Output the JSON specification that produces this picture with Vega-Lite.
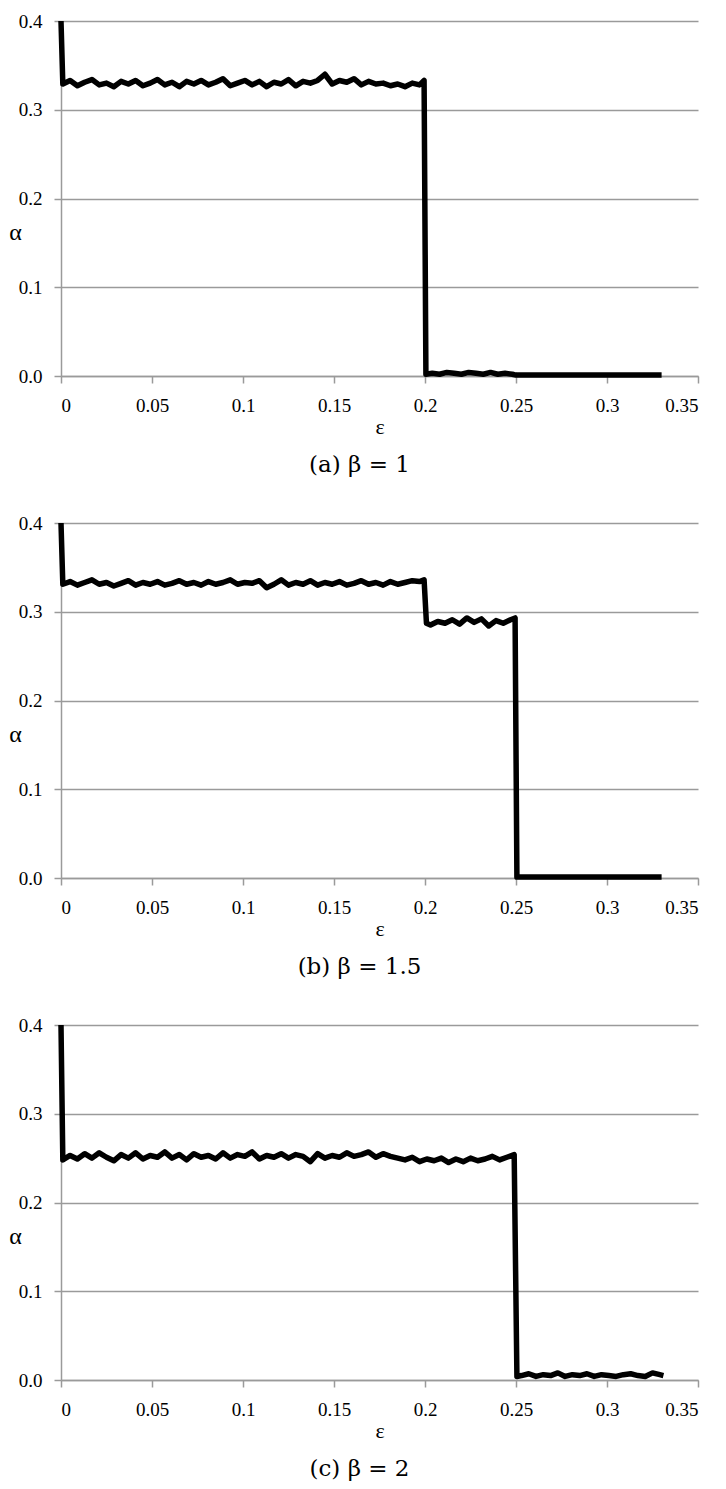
{
  "$schema": "https://vega.github.io/schema/vega-lite/v6.json",
  "background": "white",
  "padding": {"top": 12, "left": 8, "right": 5, "bottom": 5},
  "spacing": 147,
  "bounds": "flush",
  "config": {
    "view": {"stroke": null},
    "font": "Liberation Serif",
    "axis": {
      "labelFont": "Liberation Serif", "labelFontSize": 19, "labelColor": "#000",
      "titleFont": "Liberation Serif", "titleColor": "#000", "titleFontWeight": "normal",
      "domainColor": "#9a9a9a", "domainWidth": 1.5, "tickColor": "#9a9a9a", "tickWidth": 1.5, "tickSize": 7,
      "gridColor": "#9a9a9a", "gridWidth": 1.5
    },
    "title": {"font": "DejaVu Serif", "fontSize": 23, "fontWeight": "normal", "color": "#000", "orient": "bottom", "anchor": "middle", "dx": -20, "offset": 17}
  },
  "datasets": {
    "a": [
      {"x":0,"y":0.4},{"x":0.001,"y":0.329},{"x":0.005,"y":0.333},{"x":0.009,"y":0.327},{"x":0.013,"y":0.331},{"x":0.017,"y":0.334},{"x":0.021,"y":0.328},{"x":0.025,"y":0.330},{"x":0.029,"y":0.326},{"x":0.033,"y":0.332},{"x":0.037,"y":0.329},
      {"x":0.041,"y":0.333},{"x":0.045,"y":0.327},{"x":0.049,"y":0.330},{"x":0.053,"y":0.334},{"x":0.057,"y":0.328},{"x":0.061,"y":0.331},{"x":0.065,"y":0.326},{"x":0.069,"y":0.332},{"x":0.073,"y":0.329},{"x":0.077,"y":0.333},
      {"x":0.081,"y":0.328},{"x":0.085,"y":0.331},{"x":0.089,"y":0.335},{"x":0.093,"y":0.327},{"x":0.097,"y":0.330},{"x":0.101,"y":0.333},{"x":0.105,"y":0.328},{"x":0.109,"y":0.332},{"x":0.113,"y":0.326},{"x":0.117,"y":0.331},
      {"x":0.121,"y":0.329},{"x":0.125,"y":0.334},{"x":0.129,"y":0.327},{"x":0.133,"y":0.332},{"x":0.137,"y":0.330},{"x":0.141,"y":0.333},{"x":0.145,"y":0.340},{"x":0.149,"y":0.329},{"x":0.153,"y":0.333},{"x":0.157,"y":0.331},
      {"x":0.161,"y":0.335},{"x":0.165,"y":0.328},{"x":0.169,"y":0.332},{"x":0.173,"y":0.329},{"x":0.177,"y":0.330},{"x":0.181,"y":0.327},{"x":0.185,"y":0.329},{"x":0.189,"y":0.326},{"x":0.193,"y":0.330},{"x":0.197,"y":0.328},
      {"x":0.1995,"y":0.333},{"x":0.2005,"y":0.002},{"x":0.204,"y":0.003},{"x":0.208,"y":0.002},{"x":0.212,"y":0.004},{"x":0.216,"y":0.003},{"x":0.22,"y":0.002},{"x":0.224,"y":0.004},{"x":0.228,"y":0.003},{"x":0.232,"y":0.002},{"x":0.236,"y":0.004},{"x":0.24,"y":0.002},{"x":0.244,"y":0.003},{"x":0.248,"y":0.002},{"x":0.25,"y":0.001},{"x":0.27,"y":0.001},{"x":0.29,"y":0.001},{"x":0.31,"y":0.001},{"x":0.33,"y":0.001}
    ],
    "b": [
      {"x":0,"y":0.4},{"x":0.001,"y":0.331},{"x":0.005,"y":0.334},{"x":0.009,"y":0.330},{"x":0.013,"y":0.333},{"x":0.017,"y":0.336},{"x":0.021,"y":0.331},{"x":0.025,"y":0.333},{"x":0.029,"y":0.329},{"x":0.033,"y":0.332},{"x":0.037,"y":0.335},
      {"x":0.041,"y":0.330},{"x":0.045,"y":0.333},{"x":0.049,"y":0.331},{"x":0.053,"y":0.334},{"x":0.057,"y":0.330},{"x":0.061,"y":0.332},{"x":0.065,"y":0.335},{"x":0.069,"y":0.331},{"x":0.073,"y":0.333},{"x":0.077,"y":0.330},
      {"x":0.081,"y":0.334},{"x":0.085,"y":0.331},{"x":0.089,"y":0.333},{"x":0.093,"y":0.336},{"x":0.097,"y":0.331},{"x":0.101,"y":0.333},{"x":0.105,"y":0.332},{"x":0.109,"y":0.335},{"x":0.113,"y":0.327},{"x":0.117,"y":0.331},
      {"x":0.121,"y":0.336},{"x":0.125,"y":0.330},{"x":0.129,"y":0.333},{"x":0.133,"y":0.331},{"x":0.137,"y":0.335},{"x":0.141,"y":0.330},{"x":0.145,"y":0.333},{"x":0.149,"y":0.331},{"x":0.153,"y":0.334},{"x":0.157,"y":0.330},
      {"x":0.161,"y":0.332},{"x":0.165,"y":0.335},{"x":0.169,"y":0.331},{"x":0.173,"y":0.333},{"x":0.177,"y":0.330},{"x":0.181,"y":0.334},{"x":0.185,"y":0.331},{"x":0.189,"y":0.333},{"x":0.193,"y":0.335},{"x":0.197,"y":0.334},
      {"x":0.1995,"y":0.336},{"x":0.2008,"y":0.287},{"x":0.203,"y":0.285},{"x":0.207,"y":0.289},{"x":0.211,"y":0.287},{"x":0.215,"y":0.291},{"x":0.219,"y":0.286},{"x":0.223,"y":0.293},{"x":0.227,"y":0.288},{"x":0.231,"y":0.292},{"x":0.235,"y":0.284},{"x":0.239,"y":0.290},{"x":0.243,"y":0.287},{"x":0.247,"y":0.291},
      {"x":0.2495,"y":0.293},{"x":0.2505,"y":0.001},{"x":0.27,"y":0.001},{"x":0.29,"y":0.001},{"x":0.31,"y":0.001},{"x":0.33,"y":0.001}
    ],
    "c": [
      {"x":0,"y":0.4},{"x":0.001,"y":0.248},{"x":0.005,"y":0.253},{"x":0.009,"y":0.249},{"x":0.013,"y":0.255},{"x":0.017,"y":0.250},{"x":0.021,"y":0.256},{"x":0.025,"y":0.251},{"x":0.029,"y":0.247},{"x":0.033,"y":0.254},{"x":0.037,"y":0.250},
      {"x":0.041,"y":0.256},{"x":0.045,"y":0.249},{"x":0.049,"y":0.253},{"x":0.053,"y":0.251},{"x":0.057,"y":0.257},{"x":0.061,"y":0.250},{"x":0.065,"y":0.254},{"x":0.069,"y":0.248},{"x":0.073,"y":0.255},{"x":0.077,"y":0.251},
      {"x":0.081,"y":0.253},{"x":0.085,"y":0.249},{"x":0.089,"y":0.256},{"x":0.093,"y":0.250},{"x":0.097,"y":0.254},{"x":0.101,"y":0.252},{"x":0.105,"y":0.257},{"x":0.109,"y":0.249},{"x":0.113,"y":0.253},{"x":0.117,"y":0.251},
      {"x":0.121,"y":0.255},{"x":0.125,"y":0.250},{"x":0.129,"y":0.254},{"x":0.133,"y":0.252},{"x":0.137,"y":0.246},{"x":0.141,"y":0.255},{"x":0.145,"y":0.250},{"x":0.149,"y":0.253},{"x":0.153,"y":0.251},{"x":0.157,"y":0.256},
      {"x":0.161,"y":0.252},{"x":0.165,"y":0.254},{"x":0.169,"y":0.257},{"x":0.173,"y":0.251},{"x":0.177,"y":0.255},{"x":0.181,"y":0.252},{"x":0.185,"y":0.250},{"x":0.189,"y":0.248},{"x":0.193,"y":0.251},{"x":0.197,"y":0.246},
      {"x":0.201,"y":0.249},{"x":0.205,"y":0.247},{"x":0.209,"y":0.250},{"x":0.213,"y":0.245},{"x":0.217,"y":0.249},{"x":0.221,"y":0.246},{"x":0.225,"y":0.250},{"x":0.229,"y":0.247},{"x":0.233,"y":0.249},{"x":0.237,"y":0.252},
      {"x":0.241,"y":0.248},{"x":0.245,"y":0.251},{"x":0.249,"y":0.254},
      {"x":0.2505,"y":0.004},{"x":0.253,"y":0.005},{"x":0.257,"y":0.007},{"x":0.261,"y":0.004},{"x":0.265,"y":0.006},{"x":0.269,"y":0.005},{"x":0.273,"y":0.008},{"x":0.277,"y":0.004},{"x":0.281,"y":0.006},{"x":0.285,"y":0.005},{"x":0.289,"y":0.007},
      {"x":0.293,"y":0.004},{"x":0.297,"y":0.006},{"x":0.301,"y":0.005},{"x":0.305,"y":0.004},{"x":0.309,"y":0.006},{"x":0.313,"y":0.007},{"x":0.317,"y":0.005},{"x":0.321,"y":0.004},{"x":0.325,"y":0.008},{"x":0.329,"y":0.006},{"x":0.331,"y":0.005}
    ]
  },
  "vconcat": [
    {
      "width": 637, "height": 355,
      "title": {"text": "(a) β = 1", "font": "DejaVu Serif", "fontSize": 23},
      "data": {"name": "a"},
      "mark": {"type": "line", "color": "#000", "strokeWidth": 5.5, "strokeJoin": "round"},
      "encoding": {
        "x": {"field": "x", "type": "quantitative", "scale": {"domain": [0, 0.35], "nice": false, "zero": false},
              "axis": {"values": [0,0.05,0.1,0.15,0.2,0.25,0.3,0.35], "format": "~g", "grid": false, "labelFont": "Liberation Serif", "labelFontSize": 19, "labelPadding": 13, "title": "ε", "titleFont": "Liberation Serif", "titleFontSize": 22, "titlePadding": 1}},
        "y": {"field": "y", "type": "quantitative", "scale": {"domain": [0, 0.4], "nice": false},
              "axis": {"values": [0,0.1,0.2,0.3,0.4], "format": ".1f", "grid": true, "labelFont": "Liberation Serif", "labelFontSize": 19, "labelPadding": 12, "title": "α", "titleFont": "Liberation Serif", "titleFontSize": 24, "titleAngle": 0, "titleX": -46, "titleY": 211, "titleAlign": "center", "titleBaseline": "middle"}}
      }
    },
    {
      "width": 637, "height": 355,
      "title": {"text": "(b) β = 1.5", "font": "DejaVu Serif", "fontSize": 23},
      "data": {"name": "b"},
      "mark": {"type": "line", "color": "#000", "strokeWidth": 5.5, "strokeJoin": "round"},
      "encoding": {
        "x": {"field": "x", "type": "quantitative", "scale": {"domain": [0, 0.35], "nice": false, "zero": false},
              "axis": {"values": [0,0.05,0.1,0.15,0.2,0.25,0.3,0.35], "format": "~g", "grid": false, "labelFont": "Liberation Serif", "labelFontSize": 19, "labelPadding": 13, "title": "ε", "titleFont": "Liberation Serif", "titleFontSize": 22, "titlePadding": 1}},
        "y": {"field": "y", "type": "quantitative", "scale": {"domain": [0, 0.4], "nice": false},
              "axis": {"values": [0,0.1,0.2,0.3,0.4], "format": ".1f", "grid": true, "labelFont": "Liberation Serif", "labelFontSize": 19, "labelPadding": 12, "title": "α", "titleFont": "Liberation Serif", "titleFontSize": 24, "titleAngle": 0, "titleX": -46, "titleY": 211, "titleAlign": "center", "titleBaseline": "middle"}}
      }
    },
    {
      "width": 637, "height": 355,
      "title": {"text": "(c) β = 2", "font": "DejaVu Serif", "fontSize": 23},
      "data": {"name": "c"},
      "mark": {"type": "line", "color": "#000", "strokeWidth": 5.5, "strokeJoin": "round"},
      "encoding": {
        "x": {"field": "x", "type": "quantitative", "scale": {"domain": [0, 0.35], "nice": false, "zero": false},
              "axis": {"values": [0,0.05,0.1,0.15,0.2,0.25,0.3,0.35], "format": "~g", "grid": false, "labelFont": "Liberation Serif", "labelFontSize": 19, "labelPadding": 13, "title": "ε", "titleFont": "Liberation Serif", "titleFontSize": 22, "titlePadding": 1}},
        "y": {"field": "y", "type": "quantitative", "scale": {"domain": [0, 0.4], "nice": false},
              "axis": {"values": [0,0.1,0.2,0.3,0.4], "format": ".1f", "grid": true, "labelFont": "Liberation Serif", "labelFontSize": 19, "labelPadding": 12, "title": "α", "titleFont": "Liberation Serif", "titleFontSize": 24, "titleAngle": 0, "titleX": -46, "titleY": 211, "titleAlign": "center", "titleBaseline": "middle"}}
      }
    }
  ]
}
